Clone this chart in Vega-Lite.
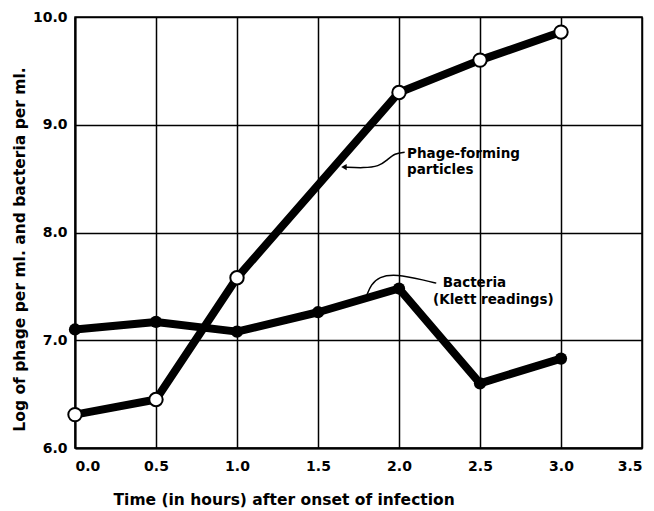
{
  "$schema": "https://vega.github.io/schema/vega-lite/v6.json",
  "width": 567,
  "height": 431,
  "autosize": {"type": "none"},
  "padding": {"left": 75, "top": 17, "right": 12, "bottom": 63},
  "background": "white",
  "config": {
    "view": {"stroke": "black", "strokeWidth": 1.5},
    "font": "DejaVu Sans",
    "axis": {
      "grid": true,
      "gridColor": "black",
      "gridWidth": 1.5,
      "gridOpacity": 1,
      "domainColor": "black",
      "domainWidth": 2,
      "ticks": false,
      "labelFont": "DejaVu Sans",
      "labelFontWeight": "bold",
      "labelFontSize": 14,
      "labelColor": "black",
      "titleFont": "DejaVu Sans",
      "titleFontWeight": "bold",
      "titleFontSize": 15.5,
      "titleColor": "black"
    }
  },
  "datasets": {
    "obs": [
      {"series": "Phage", "time": 0.0, "value": 6.31},
      {"series": "Phage", "time": 0.5, "value": 6.45},
      {"series": "Phage", "time": 1.0, "value": 7.58},
      {"series": "Phage", "time": 2.0, "value": 9.30},
      {"series": "Phage", "time": 2.5, "value": 9.60},
      {"series": "Phage", "time": 3.0, "value": 9.86},
      {"series": "Bacteria", "time": 0.0, "value": 7.10},
      {"series": "Bacteria", "time": 0.5, "value": 7.17},
      {"series": "Bacteria", "time": 1.0, "value": 7.08},
      {"series": "Bacteria", "time": 1.5, "value": 7.26},
      {"series": "Bacteria", "time": 2.0, "value": 7.48},
      {"series": "Bacteria", "time": 2.5, "value": 6.60},
      {"series": "Bacteria", "time": 3.0, "value": 6.83}
    ],
    "labels": [
      {"text": "Phage-forming", "x": 2.05, "y": 8.73},
      {"text": "particles", "x": 2.05, "y": 8.58},
      {"text": "Bacteria", "x": 2.27, "y": 7.53},
      {"text": "(Klett readings)", "x": 2.21, "y": 7.37}
    ],
    "connectors": [
      {"id": "p", "o": 1, "x": 2.035, "y": 8.744},
      {"id": "p", "o": 2, "x": 1.974, "y": 8.735},
      {"id": "p", "o": 3, "x": 1.925, "y": 8.67},
      {"id": "p", "o": 4, "x": 1.876, "y": 8.614},
      {"id": "p", "o": 5, "x": 1.784, "y": 8.598},
      {"id": "p", "o": 6, "x": 1.66, "y": 8.607},
      {"id": "b", "o": 1, "x": 2.23, "y": 7.530},
      {"id": "b", "o": 2, "x": 2.165, "y": 7.554},
      {"id": "b", "o": 3, "x": 1.980, "y": 7.617},
      {"id": "b", "o": 4, "x": 1.876, "y": 7.589},
      {"id": "b", "o": 5, "x": 1.827, "y": 7.514},
      {"id": "b", "o": 6, "x": 1.802, "y": 7.421}
    ],
    "arrow": [
      {"x": 1.66, "y": 8.607}
    ]
  },
  "layer": [
    {
      "data": {"name": "obs"},
      "mark": {"type": "line", "color": "black", "strokeWidth": 8, "strokeJoin": "round", "strokeCap": "round"},
      "encoding": {
        "x": {
          "field": "time", "type": "quantitative",
          "scale": {"domain": [0, 3.5], "nice": false, "zero": false},
          "axis": {
            "values": [0, 0.5, 1, 1.5, 2, 2.5, 3, 3.5],
            "format": ".1f",
            "labelPadding": 11,
            "title": "Time (in hours) after onset of infection",
            "titleAnchor": "start",
            "titleX": 38,
            "titleY": 44
          }
        },
        "y": {
          "field": "value", "type": "quantitative",
          "scale": {"domain": [6, 10], "nice": false, "zero": false},
          "axis": {
            "values": [6, 7, 8, 9, 10],
            "format": ".1f",
            "labelPadding": 8,
            "title": "Log of phage per ml. and bacteria per ml.",
            "titleAnchor": "middle",
            "titleX": -48,
            "titleY": 232
          }
        },
        "detail": {"field": "series"}
      }
    },
    {
      "data": {"name": "obs"},
      "transform": [{"filter": "datum.series === 'Bacteria'"}],
      "mark": {"type": "point", "shape": "circle", "filled": true, "color": "black", "size": 150, "opacity": 1},
      "encoding": {
        "x": {"field": "time", "type": "quantitative"},
        "y": {"field": "value", "type": "quantitative"}
      }
    },
    {
      "data": {"name": "obs"},
      "transform": [{"filter": "datum.series === 'Phage'"}],
      "mark": {"type": "point", "shape": "circle", "filled": true, "fill": "white", "stroke": "black", "strokeWidth": 2, "size": 180, "opacity": 1},
      "encoding": {
        "x": {"field": "time", "type": "quantitative"},
        "y": {"field": "value", "type": "quantitative"}
      }
    },
    {
      "data": {"name": "connectors"},
      "mark": {"type": "line", "color": "black", "strokeWidth": 1.5, "interpolate": "basis"},
      "encoding": {
        "x": {"field": "x", "type": "quantitative"},
        "y": {"field": "y", "type": "quantitative"},
        "detail": {"field": "id"},
        "order": {"field": "o"}
      }
    },
    {
      "data": {"name": "arrow"},
      "mark": {"type": "point", "shape": "triangle-left", "filled": true, "color": "black", "size": 40, "opacity": 1},
      "encoding": {
        "x": {"field": "x", "type": "quantitative"},
        "y": {"field": "y", "type": "quantitative"}
      }
    },
    {
      "data": {"name": "labels"},
      "mark": {"type": "text", "align": "left", "baseline": "middle", "font": "DejaVu Sans", "fontWeight": "bold", "fontSize": 13.5, "color": "black"},
      "encoding": {
        "x": {"field": "x", "type": "quantitative"},
        "y": {"field": "y", "type": "quantitative"},
        "text": {"field": "text"}
      }
    }
  ]
}
